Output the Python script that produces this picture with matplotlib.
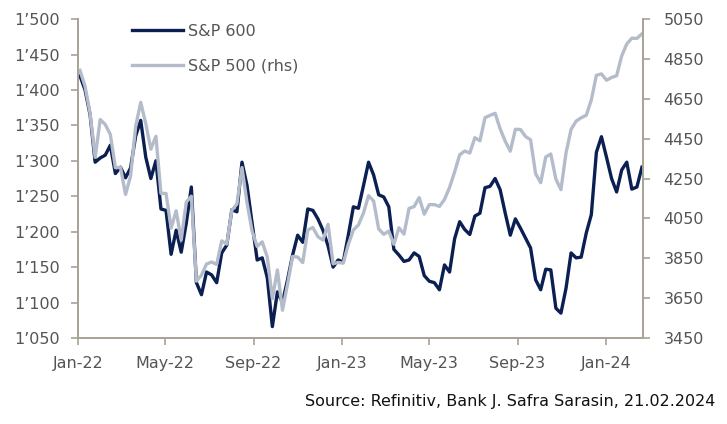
import matplotlib
matplotlib.use("Agg")
import matplotlib.pyplot as plt
import matplotlib.dates as mdates
import numpy as np
import pandas as pd
from matplotlib.ticker import FuncFormatter, MultipleLocator, FixedLocator

# weekly (Tuesday) observations, Jan 2022 - Feb 2024
dates = pd.date_range("2022-01-04", periods=112, freq="7D")

sp600 = [
    1420, 1400, 1365, 1298, 1304, 1308, 1322, 1282, 1291, 1276,
    1290, 1335, 1357, 1305, 1275, 1300, 1232, 1230, 1168, 1202,
    1171, 1212, 1263, 1128, 1111, 1143, 1139, 1128, 1170, 1181,
    1231, 1228, 1298, 1265, 1212, 1160, 1163, 1135, 1066, 1115,
    1100, 1132, 1167, 1195, 1185, 1232, 1230, 1218, 1202, 1180,
    1150, 1160, 1157, 1195, 1235, 1233, 1265, 1298, 1280, 1252,
    1249, 1235, 1175, 1167, 1158, 1160, 1170, 1165, 1138, 1130,
    1128, 1118, 1153, 1143, 1190, 1214, 1203, 1196, 1222, 1226,
    1262, 1264, 1275, 1259, 1226, 1195, 1218, 1205, 1191, 1177,
    1132, 1118, 1147, 1146, 1092, 1085, 1120, 1170, 1163, 1164,
    1198, 1224, 1312, 1334, 1305, 1275, 1256, 1287, 1298, 1260,
    1263, 1291,
]

sp500 = [
    4793, 4713, 4577, 4356, 4546, 4521, 4471, 4304, 4306, 4170,
    4262, 4511, 4632, 4525, 4397, 4462, 4175, 4175, 4001, 4088,
    3941, 4132, 4161, 3735, 3765, 3821, 3831, 3819, 3937, 3921,
    4091, 4122, 4305, 4128, 3986, 3909, 3932, 3856, 3647, 3791,
    3589, 3720, 3859, 3856, 3828, 3992, 4004, 3958, 3941, 4020,
    3822, 3829, 3825, 3919, 3991, 4017, 4077, 4164, 4137, 3997,
    3970, 3986, 3920, 4003, 3971, 4100, 4109, 4154, 4071, 4119,
    4119, 4110, 4145, 4205, 4283, 4369, 4388, 4378, 4455, 4439,
    4555, 4567, 4577, 4499, 4437, 4387, 4497, 4496, 4461, 4444,
    4274, 4229, 4358, 4373, 4247, 4194, 4378, 4496, 4538, 4555,
    4567, 4644, 4768, 4775, 4743, 4757, 4766, 4865, 4925, 4954,
    4953, 4976,
]

NAVY = "#0b1f52"
GREY = "#b4bccb"
SPINE = "#a8a294"
TXT = "#555555"

plt.rcParams["font.family"] = ["DejaVu Sans"]
plt.rcParams["font.size"] = 11.5


def apos(v, _pos):
    return f"{int(v):,}".replace(",", "\u2019")


fig = plt.figure(figsize=(7.27, 4.24), dpi=100)
ax = fig.add_axes([0.107, 0.203, 0.777, 0.752])
ax2 = ax.twinx()

l1, = ax.plot(dates, sp600, color=NAVY, lw=2.4, label="S&P 600")
l2, = ax2.plot(dates, sp500, color=GREY, lw=2.4, label="S&P 500 (rhs)")

ax.set_xlim(pd.Timestamp("2022-01-01"), pd.Timestamp("2024-02-21"))
ax.set_ylim(1050, 1500)
ax2.set_ylim(3450, 5050)
ax.yaxis.set_major_locator(MultipleLocator(50))
ax2.yaxis.set_major_locator(FixedLocator(np.arange(3450, 5051, 200)))
ax.yaxis.set_major_formatter(FuncFormatter(apos))

ax.xaxis.set_major_locator(mdates.MonthLocator(bymonth=[1, 5, 9]))
ax.xaxis.set_major_formatter(mdates.DateFormatter("%b-%y"))

for a in (ax, ax2):
    a.spines["top"].set_visible(False)
    for s in ("left", "right", "bottom"):
        a.spines[s].set_color(SPINE)
        a.spines[s].set_linewidth(1.2)
    a.tick_params(colors=SPINE, labelcolor=TXT, length=5, width=1.2,
                  labelsize=11.5)
ax.tick_params(axis="y", pad=8)
ax2.tick_params(axis="y", pad=10)
ax.tick_params(axis="x", pad=8)

leg = ax2.legend(handles=[l1, l2], loc="upper left",
                 bbox_to_anchor=(0.07, 1.03), frameon=False,
                 handlelength=3.2, handletextpad=0.3, labelspacing=1.25,
                 fontsize=11.5)
for t in leg.get_texts():
    t.set_color(TXT)

fig.text(0.984, 0.053, "Source: Refinitiv, Bank J. Safra Sarasin, 21.02.2024",
         ha="right", va="center", fontsize=11.5, color="#111111")

fig.savefig("out.png", dpi=100)
